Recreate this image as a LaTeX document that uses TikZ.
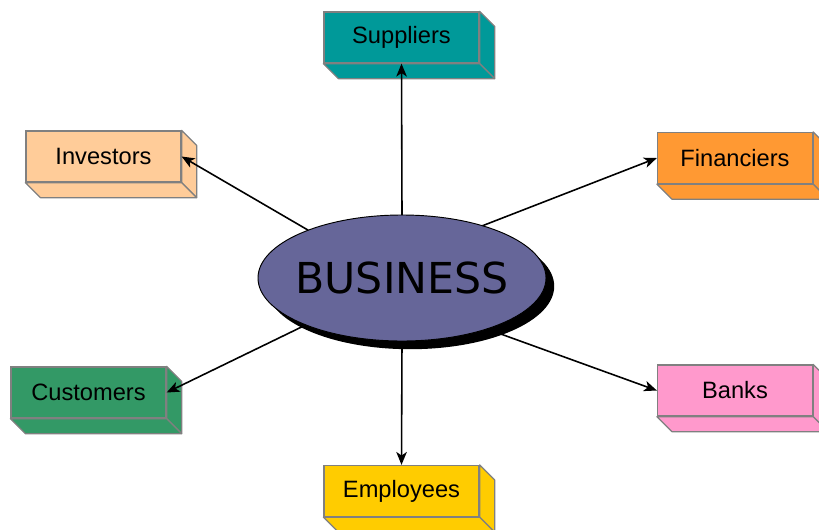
\documentclass[tikz,border=0pt]{standalone}
\usepackage{fontspec}
\setmainfont{Liberation Sans}
\newfontfamily\bizfont{DejaVu Sans}
\usetikzlibrary{calc,arrows.meta,shadows,shapes.geometric}
\definecolor{cSup}{HTML}{009999}
\definecolor{cInv}{HTML}{FFCC99}
\definecolor{cFin}{HTML}{FF9933}
\definecolor{cCus}{HTML}{339966}
\definecolor{cBank}{HTML}{FF99CC}
\definecolor{cEmp}{HTML}{FFCC00}
\definecolor{cBiz}{HTML}{666699}
\definecolor{cEdge}{HTML}{808080}
\tikzset{
  front/.style={rectangle, draw=cEdge, line width=1.1pt, minimum width=155*0.03cm,
    minimum height=51*0.03cm, inner sep=0pt, font=\fontsize{20.2}{24}\selectfont},
  side/.style={draw=cEdge, line width=1.1pt, line join=round},
  link/.style={line width=1.35pt, -{Stealth[length=11pt,width=9pt,inset=3pt]}},
}
\newcommand\cubeside[2]{%
  \filldraw[side, fill=#2] (#1.north east) -- ([shift={(15,15)}]#1.north east)
    -- ([shift={(15,15)}]#1.south east) -- (#1.south east) -- cycle;
  \filldraw[side, fill=#2] (#1.south west) -- (#1.south east)
    -- ([shift={(15,15)}]#1.south east) -- ([shift={(15,15)}]#1.south west) -- cycle;
}
\begin{document}
\begin{tikzpicture}[x=0.03cm,y=-0.03cm]
\useasboundingbox[fill=white] (0,0) rectangle (819,529);
% boxes
\node[front, fill=cSup] (sup) at (401.5,37.5) {Suppliers};
\cubeside{sup}{cSup}
\node[front, fill=cInv] (inv) at (103.5,156.5) {Investors};
\cubeside{inv}{cInv}
\node[front, fill=cFin] (fin) at (735,158) {Financiers};
\cubeside{fin}{cFin}
\node[front, fill=cCus] (cus) at (88.5,392.5) {Customers};
\cubeside{cus}{cCus}
\node[front, fill=cBank] (bank) at (735,390.5) {Banks};
\cubeside{bank}{cBank}
\node[front, fill=cEmp] (emp) at (401.5,491) {Employees};
\cubeside{emp}{cEmp}
% center ellipse
\node[ellipse, draw=black, line width=0.8pt, fill=cBiz, minimum width=288*0.03cm,
  minimum height=126*0.03cm, inner sep=0pt, outer sep=0pt,
  drop shadow={shadow xshift=7pt, shadow yshift=-7pt, fill=black, opacity=1},
  label={[font=\bizfont\fontsize{36.4}{40}\selectfont, inner sep=0pt]center:BUSINESS}]
  (biz) at (402,278) {};
% connectors
\draw[link] (biz.north) -- (sup.south);
\draw[link] (biz.153) -- (inv.east);
\draw[link] (biz.33) -- (fin.west);
\draw[link] (biz.206) -- (cus.east);
\draw[link] (biz.-31) -- (bank.west);
\draw[link] (biz.south) -- (emp.north);
\end{tikzpicture}
\end{document}
